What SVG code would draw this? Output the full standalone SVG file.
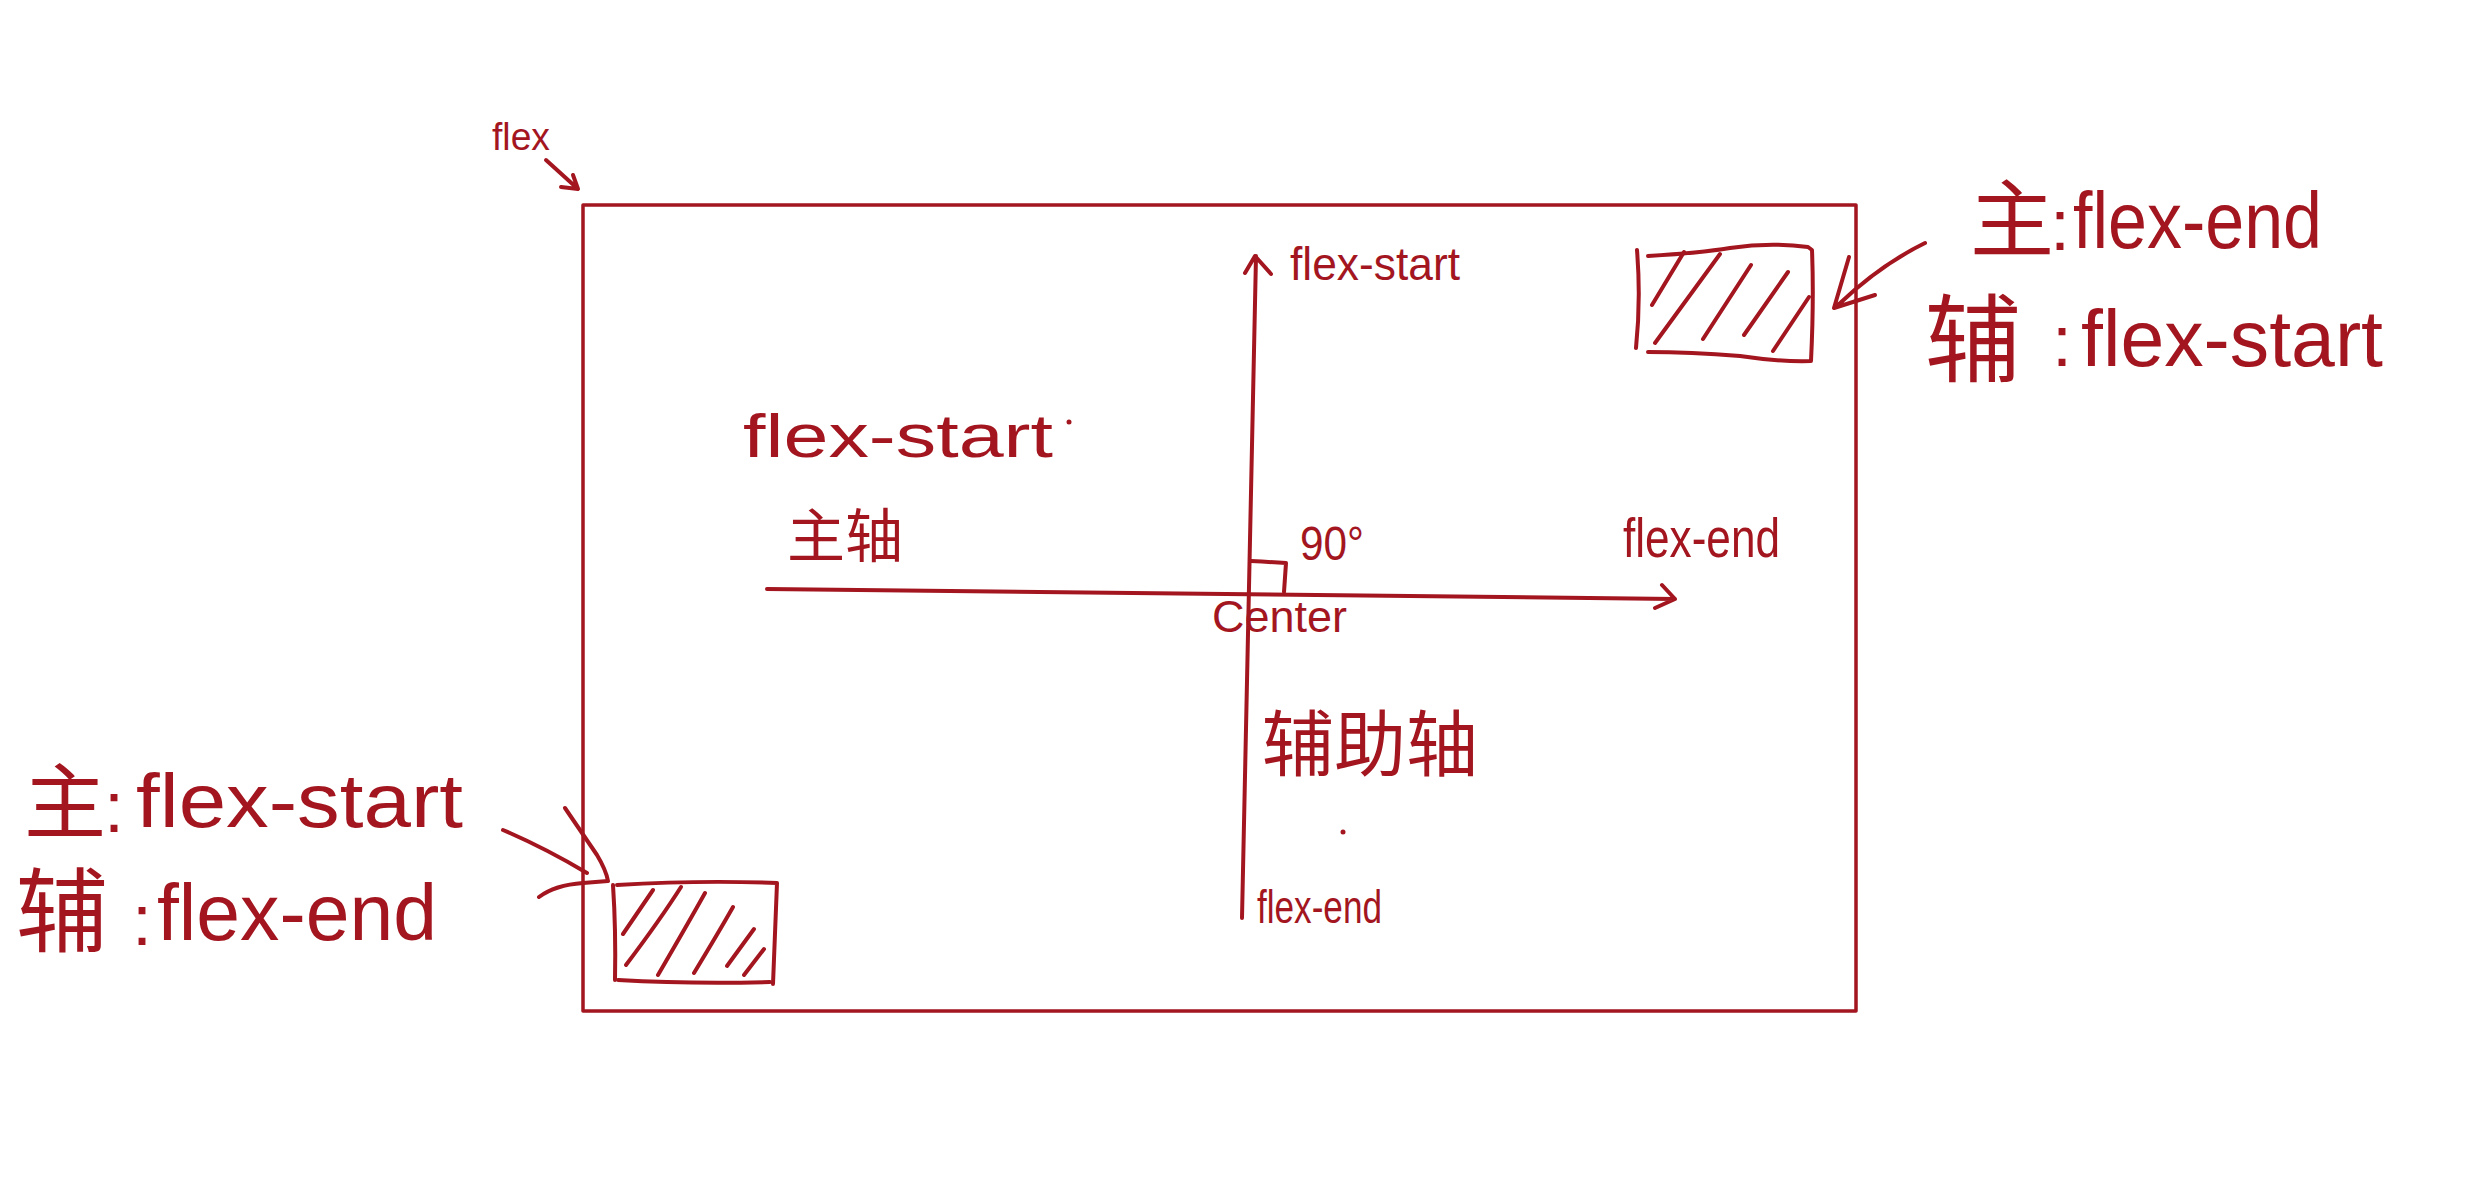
<svg xmlns="http://www.w3.org/2000/svg" width="2484" height="1200" viewBox="0 0 2484 1200">
<style>
.ln{fill:none;stroke:#a3161f;stroke-width:4;stroke-linecap:round;stroke-linejoin:round}
.thin{stroke-width:3.5}
.t{fill:#a3161f;font-family:'Liberation Sans','Noto Sans CJK SC',sans-serif}
.dot{fill:#a3161f}
</style>
<rect width="2484" height="1200" fill="#ffffff"/>
<g id="container">
<rect class="ln thin" x="583" y="205" width="1273" height="806"/>
</g>
<g id="item-top-right">
<path class="ln" d="M1637,250 Q1641,300 1636,348"/>
<path class="ln" d="M1648,256 Q1700,253 1730,248 Q1770,242 1808,247 L1812,250 Q1814,300 1811,361 Q1780,362 1740,356 Q1690,352 1648,352"/>
<path class="ln" d="M1652,305 L1684,252 M1655,343 L1720,254 M1703,339 L1751,265 M1744,335 L1788,272 M1773,351 L1809,297"/>
</g>
<g id="item-bottom-left">
<path class="ln" d="M613,885 Q616,930 615,980"/>
<path class="ln" d="M617,885 Q700,880 777,883 Q775,930 773,984"/>
<path class="ln" d="M618,980 Q690,984 770,982"/>
<path class="ln" d="M623,934 L653,890 M626,965 Q660,920 681,887 M658,975 Q690,920 705,893 M694,973 Q720,930 733,907 M727,966 L754,929 M744,975 L764,949"/>
</g>
<g id="label-flex">
<text class="t" x="492" y="150" font-size="38" textLength="58" lengthAdjust="spacingAndGlyphs">flex</text>
</g>
<g id="label-main-start">
<text class="t" x="743" y="457" font-size="62" textLength="310" lengthAdjust="spacingAndGlyphs">flex-start</text>
<circle class="dot" cx="1069" cy="422" r="2.5"/>
</g>
<g id="label-main-axis">
<text class="t" x="787" y="557" font-size="58">主轴</text>
</g>
<g id="label-cross-start">
<text class="t" x="1290" y="280" font-size="46" textLength="170" lengthAdjust="spacingAndGlyphs">flex-start</text>
</g>
<g id="label-angle">
<text class="t" x="1300" y="560" font-size="48" textLength="64" lengthAdjust="spacingAndGlyphs">90°</text>
<path class="ln" d="M1251,561 Q1270,562 1286,563 L1284,592"/>
</g>
<g id="label-center">
<text class="t" x="1212" y="632" font-size="44" textLength="135" lengthAdjust="spacingAndGlyphs">Center</text>
</g>
<g id="label-main-end">
<text class="t" x="1623" y="557" font-size="56" textLength="157" lengthAdjust="spacingAndGlyphs">flex-end</text>
</g>
<g id="label-cross-axis">
<text class="t" x="1262" y="770" font-size="72">辅助轴</text>
<circle class="dot" cx="1343" cy="832" r="2.5"/>
</g>
<g id="label-cross-end">
<text class="t" x="1257" y="923" font-size="46" textLength="125" lengthAdjust="spacingAndGlyphs">flex-end</text>
</g>
<g id="label-top-right">
<text class="t" y="250"><tspan x="1970" font-size="84">主</tspan><tspan x="2050" font-size="72">:</tspan><tspan x="2073" y="248" font-size="80" textLength="249" lengthAdjust="spacingAndGlyphs">flex-end</tspan></text>
<text class="t" y="374"><tspan x="1925" font-size="96">辅</tspan><tspan x="2052" y="366" font-size="72">:</tspan><tspan x="2081" y="366" font-size="80" textLength="302" lengthAdjust="spacingAndGlyphs">flex-start</tspan></text>
</g>
<g id="label-bottom-left">
<text class="t" y="832"><tspan x="24" font-size="82">主</tspan><tspan x="104" font-size="72">:</tspan><tspan x="136" y="827" font-size="76" textLength="327" lengthAdjust="spacingAndGlyphs">flex-start</tspan></text>
<text class="t" y="945"><tspan x="16" font-size="92">辅</tspan><tspan x="132" font-size="72">:</tspan><tspan x="157" y="940" font-size="80" textLength="280" lengthAdjust="spacingAndGlyphs">flex-end</tspan></text>
</g>
<g id="connectors">
<path class="ln" d="M546,160 L578,189 M573,175 L578,189 L561,187"/>
<path class="ln" d="M767,589 L1675,599 M1662,585 L1675,599 L1655,608"/>
<path class="ln" d="M1242,918 L1256,256 M1245,273 L1255,256 L1271,274"/>
<path class="ln" d="M1925,243 Q1880,265 1838,305 M1849,257 L1834,308 L1875,295"/>
<path class="ln" d="M503,830 Q545,848 587,873 M565,808 L597,855 Q606,870 608,881 L583,883 Q555,885 539,897"/>
</g>
</svg>
